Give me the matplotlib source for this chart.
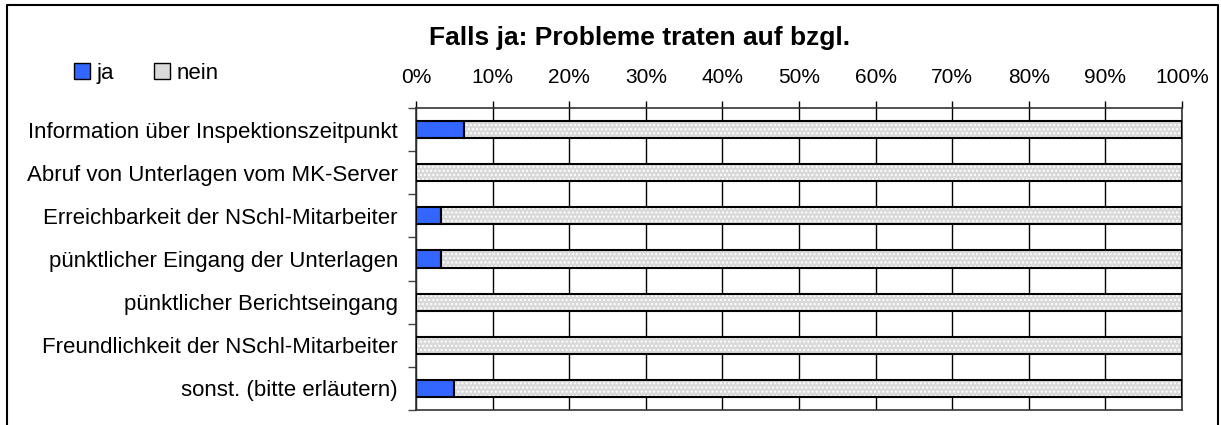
import matplotlib
matplotlib.use("Agg")
import matplotlib.pyplot as plt
import numpy as np
from matplotlib.lines import Line2D
from matplotlib.patches import Patch

plt.rcParams["font.family"] = ["Liberation Sans", "DejaVu Sans"]
plt.rcParams["hatch.color"] = "white"
plt.rcParams["hatch.linewidth"] = 1.0

categories = [
    "Information über Inspektionszeitpunkt",
    "Abruf von Unterlagen vom MK-Server",
    "Erreichbarkeit der NSchl-Mitarbeiter",
    "pünktlicher Eingang der Unterlagen",
    "pünktlicher Berichtseingang",
    "Freundlichkeit der NSchl-Mitarbeiter",
    "sonst. (bitte erläutern)",
]
ja = np.array([6.3, 0.0, 3.2, 3.2, 0.0, 0.0, 4.9])
nein = 100 - ja

blue = "#3366ff"
grey = "#d9d9d9"

fig = plt.figure(figsize=(12.21, 4.25), dpi=100)
ax = fig.add_axes([416 / 1221, 1 - 410 / 425, 766 / 1221, 302 / 425])

y = np.arange(len(categories))
h = 0.4
ax.barh(y, ja, height=h, color=blue, edgecolor="black", linewidth=1.5, zorder=3)
# dotted grey fill: grey base, white dots, then the outline on top
ax.barh(y, nein, left=ja, height=h, color=grey, edgecolor="white",
        hatch="....", linewidth=0, zorder=3)
ax.barh(y, nein, left=ja, height=h, color="none", edgecolor="black",
        linewidth=1.5, zorder=4)

ax.set_xlim(0, 100)
ax.set_ylim(len(categories) - 0.5, -0.5)
ax.set_xticks(np.arange(0, 101, 10))
ax.set_xticklabels([f"{v}%" for v in range(0, 101, 10)])
ax.xaxis.tick_top()
ax.tick_params(axis="x", length=5, width=1, pad=10, labelsize=15)

ax.set_yticks(y)
ax.set_yticklabels(categories)
ax.set_yticks(np.arange(-0.5, len(categories), 1), minor=True)
ax.tick_params(axis="y", which="major", length=0, pad=13, labelsize=16)
ax.tick_params(axis="y", which="minor", length=6, width=1, color="#444444")

ax.grid(axis="x", color="black", linewidth=1, zorder=0)
ax.set_axisbelow(True)
for s in ax.spines.values():
    s.set_linewidth(1.2)
    s.set_color("#333333")

fig.text(0.524, 0.91, "Falls ja: Probleme traten auf bzgl.", ha="center",
         va="center", fontsize=19, fontweight="bold")

handles = [Patch(facecolor=blue, edgecolor="black", label="ja"),
           Patch(facecolor=grey, edgecolor="black", label="nein")]
fig.legend(handles=handles, loc="center", bbox_to_anchor=(0.12, 0.828),
           ncol=2, frameon=False, fontsize=16, handlelength=0.7,
           handleheight=0.7, handletextpad=0.3, columnspacing=1.8)

# outer chart frame (open at the bottom)
fig.add_artist(Line2D([7 / 1221, 7 / 1221, 1218 / 1221, 1218 / 1221],
                      [0, 1 - 5 / 425, 1 - 5 / 425, 0],
                      color="black", linewidth=1.5))

fig.savefig("out.png", dpi=100)
